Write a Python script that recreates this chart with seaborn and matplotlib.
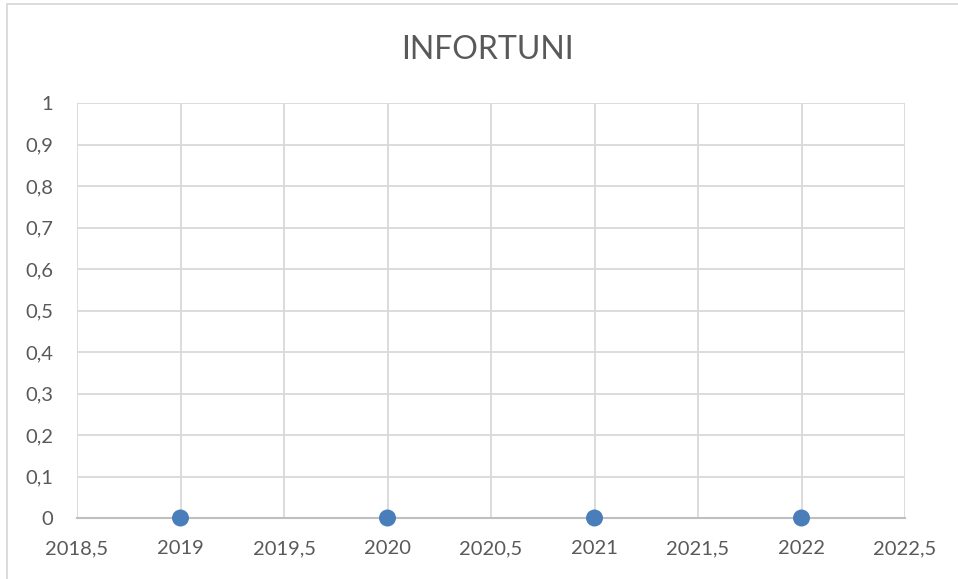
import matplotlib
matplotlib.use("Agg")
import matplotlib.pyplot as plt
import seaborn as sns
import pandas as pd
from matplotlib.patches import Rectangle

# Data
years = [2019, 2020, 2021, 2022]
infortuni = [0, 0, 0, 0]
x_ticks = [2018.5, 2019, 2019.5, 2020, 2020.5, 2021, 2021.5, 2022, 2022.5]
x_labels = ["2018,5", "2019", "2019,5", "2020", "2020,5", "2021", "2021,5", "2022", "2022,5"]
y_ticks = [0, 0.1, 0.2, 0.3, 0.4, 0.5, 0.6, 0.7, 0.8, 0.9, 1]
y_labels = ["0", "0,1", "0,2", "0,3", "0,4", "0,5", "0,6", "0,7", "0,8", "0,9", "1"]

df = pd.DataFrame({"anno": years, "infortuni": infortuni})

sns.set_style("white")
plt.rcParams["font.family"] = ["Lato", "DejaVu Sans"]

text_col = "#595959"
grid_col = "#d9d9d9"

fig = plt.figure(figsize=(9.58, 5.79), dpi=100)
ax = fig.add_axes([77 / 958, 1 - 518 / 579, (905 - 77) / 958, (518 - 103) / 579])

# outer chart border
fig.patches.append(Rectangle((7 / 958, -0.01), 1.02, 1 - 4 / 579 + 0.01,
                             transform=fig.transFigure, fill=False,
                             edgecolor=grid_col, linewidth=1.3))

sns.scatterplot(data=df, x="anno", y="infortuni", ax=ax, s=150,
                color="#4a7ebb", edgecolor="none", clip_on=False, zorder=5)

ax.set_xlim(2018.5, 2022.5)
ax.set_ylim(0, 1)
ax.set_xticks(x_ticks)
ax.set_xticklabels(x_labels)
ax.set_yticks(y_ticks)
ax.set_yticklabels(y_labels)
ax.grid(True, color=grid_col, linewidth=1.3)
ax.set_axisbelow(True)
for side in ["top", "right", "left"]:
    ax.spines[side].set_visible(False)
ax.spines["bottom"].set_color("#bfbfbf")
ax.spines["bottom"].set_linewidth(1.5)
ax.tick_params(axis="both", length=0, labelsize=14.5, labelcolor=text_col)
ax.tick_params(axis="y", pad=17)
ax.tick_params(axis="x", pad=16)
ax.set_xlabel("")
ax.set_ylabel("")

fig.text(487 / 958, 1 - 50 / 579, "INFORTUNI", ha="center", va="center",
         fontsize=23, color=text_col)

fig.savefig("out.png", dpi=100)
